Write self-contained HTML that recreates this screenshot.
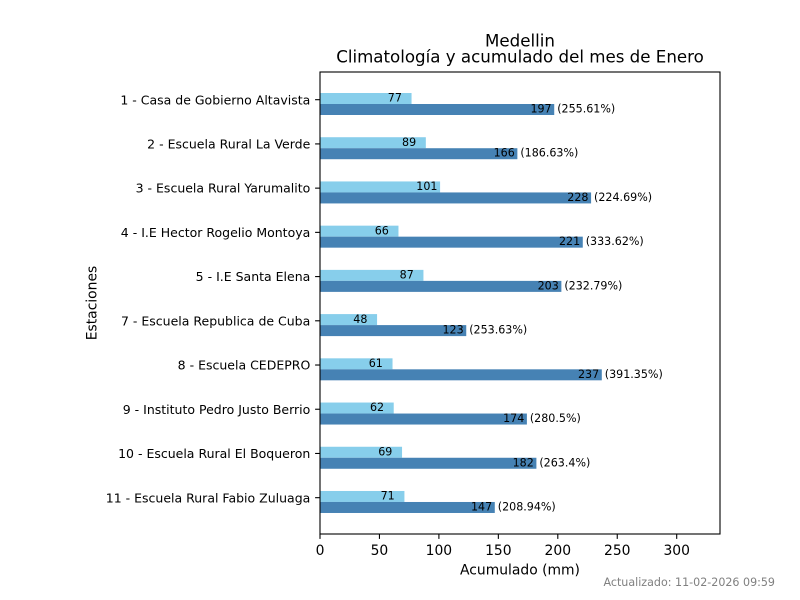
<!DOCTYPE html>
<html><head><meta charset="utf-8"><style>
html,body{margin:0;padding:0;background:#fff;}
svg{display:block;}
text{font-family:"DejaVu Sans","Liberation Sans",sans-serif;}
</style></head><body>
<svg width="800" height="600" viewBox="0 0 800 600" xmlns="http://www.w3.org/2000/svg">
<rect x="0" y="0" width="800" height="600" fill="#fff"/>
<!-- bars -->
<g>
<rect x="320" y="93.0" width="91.55" height="11" fill="#87CEEB"/>
<rect x="320" y="104.0" width="234.23" height="11" fill="#4682B4"/>
<rect x="320" y="137.22" width="105.82" height="11" fill="#87CEEB"/>
<rect x="320" y="148.22" width="197.37" height="11" fill="#4682B4"/>
<rect x="320" y="181.44" width="120.09" height="11" fill="#87CEEB"/>
<rect x="320" y="192.44" width="271.09" height="11" fill="#4682B4"/>
<rect x="320" y="225.66" width="78.47" height="11" fill="#87CEEB"/>
<rect x="320" y="236.66" width="262.77" height="11" fill="#4682B4"/>
<rect x="320" y="269.88" width="103.44" height="11" fill="#87CEEB"/>
<rect x="320" y="280.88" width="241.37" height="11" fill="#4682B4"/>
<rect x="320" y="314.1" width="57.07" height="11" fill="#87CEEB"/>
<rect x="320" y="325.1" width="146.25" height="11" fill="#4682B4"/>
<rect x="320" y="358.32" width="72.53" height="11" fill="#87CEEB"/>
<rect x="320" y="369.32" width="281.79" height="11" fill="#4682B4"/>
<rect x="320" y="402.54" width="73.72" height="11" fill="#87CEEB"/>
<rect x="320" y="413.54" width="206.89" height="11" fill="#4682B4"/>
<rect x="320" y="446.76" width="82.04" height="11" fill="#87CEEB"/>
<rect x="320" y="457.76" width="216.40" height="11" fill="#4682B4"/>
<rect x="320" y="490.98" width="84.42" height="11" fill="#87CEEB"/>
<rect x="320" y="501.98" width="174.78" height="11" fill="#4682B4"/>
</g>
<!-- bar labels -->
<g font-size="11.1" fill="#000">
<text x="387.77" y="101.7">77</text><text x="530.45" y="112.5">197</text><text x="557.21" y="112.5">(255.61%)</text>
<text x="402.04" y="145.92">89</text><text x="493.59" y="156.72">166</text><text x="520.35" y="156.72">(186.63%)</text>
<text x="416.31" y="190.14">101</text><text x="567.31" y="200.94">228</text><text x="594.06" y="200.94">(224.69%)</text>
<text x="374.69" y="234.36">66</text><text x="558.99" y="245.16">221</text><text x="585.74" y="245.16">(333.62%)</text>
<text x="399.66" y="278.58">87</text><text x="537.59" y="289.38">203</text><text x="564.34" y="289.38">(232.79%)</text>
<text x="353.29" y="322.8">48</text><text x="442.47" y="333.6">123</text><text x="469.22" y="333.6">(253.63%)</text>
<text x="368.75" y="367.02">61</text><text x="578.01" y="377.82">237</text><text x="604.77" y="377.82">(391.35%)</text>
<text x="369.94" y="411.24">62</text><text x="503.11" y="422.04">174</text><text x="529.86" y="422.04">(280.5%)</text>
<text x="378.26" y="455.46">69</text><text x="512.62" y="466.26">182</text><text x="539.37" y="466.26">(263.4%)</text>
<text x="380.64" y="499.68">71</text><text x="471.00" y="510.48">147</text><text x="497.76" y="510.48">(208.94%)</text>
</g>
<!-- axes frame -->
<rect x="320" y="72" width="400" height="462" fill="none" stroke="#000" stroke-width="1.1"/>
<!-- y ticks -->
<g stroke="#000" stroke-width="1.1">
<line x1="315.1" y1="99.7" x2="320" y2="99.7"/>
<line x1="315.1" y1="143.92" x2="320" y2="143.92"/>
<line x1="315.1" y1="188.14" x2="320" y2="188.14"/>
<line x1="315.1" y1="232.36" x2="320" y2="232.36"/>
<line x1="315.1" y1="276.58" x2="320" y2="276.58"/>
<line x1="315.1" y1="320.8" x2="320" y2="320.8"/>
<line x1="315.1" y1="365.02" x2="320" y2="365.02"/>
<line x1="315.1" y1="409.24" x2="320" y2="409.24"/>
<line x1="315.1" y1="453.46" x2="320" y2="453.46"/>
<line x1="315.1" y1="497.68" x2="320" y2="497.68"/>
</g>
<g font-size="12.5" fill="#000" text-anchor="end">
<text x="310.3" y="104.3">1 - Casa de Gobierno Altavista</text>
<text x="310.3" y="148.52">2 - Escuela Rural La Verde</text>
<text x="310.3" y="192.74">3 - Escuela Rural Yarumalito</text>
<text x="310.3" y="236.96">4 - I.E Hector Rogelio Montoya</text>
<text x="310.3" y="281.18">5 - I.E Santa Elena</text>
<text x="310.3" y="325.4">7 - Escuela Republica de Cuba</text>
<text x="310.3" y="369.62">8 - Escuela CEDEPRO</text>
<text x="310.3" y="413.84">9 - Instituto Pedro Justo Berrio</text>
<text x="310.3" y="458.06">10 - Escuela Rural El Boqueron</text>
<text x="310.3" y="502.28">11 - Escuela Rural Fabio Zuluaga</text>
</g>
<!-- x ticks -->
<g stroke="#000" stroke-width="1.1">
<line x1="320" y1="534" x2="320" y2="538.9"/>
<line x1="379.45" y1="534" x2="379.45" y2="538.9"/>
<line x1="438.9" y1="534" x2="438.9" y2="538.9"/>
<line x1="498.35" y1="534" x2="498.35" y2="538.9"/>
<line x1="557.8" y1="534" x2="557.8" y2="538.9"/>
<line x1="617.25" y1="534" x2="617.25" y2="538.9"/>
<line x1="676.7" y1="534" x2="676.7" y2="538.9"/>
</g>
<g font-size="13.89" fill="#000" text-anchor="middle">
<text x="320" y="555">0</text>
<text x="379.45" y="555">50</text>
<text x="438.9" y="555">100</text>
<text x="498.35" y="555">150</text>
<text x="557.8" y="555">200</text>
<text x="617.25" y="555">250</text>
<text x="676.7" y="555">300</text>
<text x="520" y="574.5">Acumulado (mm)</text>
</g>
<text x="96.5" y="303" font-size="13.89" fill="#000" text-anchor="middle" transform="rotate(-90 96.5 303)">Estaciones</text>
<!-- title -->
<g font-size="16.67" fill="#000" text-anchor="middle">
<text x="520" y="46.5">Medellin</text>
<text x="520" y="62.7">Climatología y acumulado del mes de Enero</text>
</g>
<text x="775" y="586" font-size="11.1" fill="#808080" text-anchor="end">Actualizado: 11-02-2026 09:59</text>
</svg>
</body></html>
